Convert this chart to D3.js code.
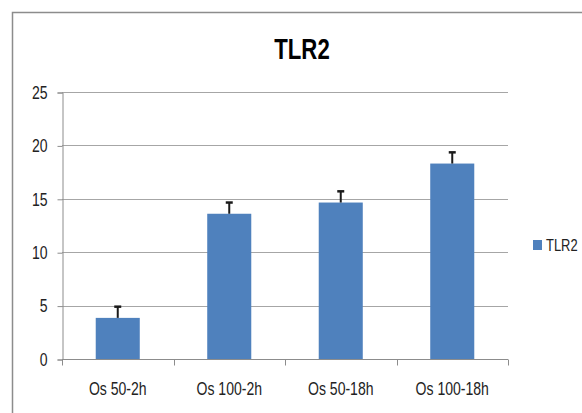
<!DOCTYPE html>
<html>
<head>
<meta charset="utf-8">
<script src="https://cdn.jsdelivr.net/npm/d3@7"></script>
<style>
  body { margin: 0; background: #fff; }
  svg text { font-family: "Liberation Sans", Arial, sans-serif; fill: #222; }
</style>
</head>
<body>
<div id="chart"></div>
<script>
var categories = ["Os 50-2h", "Os 100-2h", "Os 50-18h", "Os 100-18h"];
var values = [3.85, 13.6, 14.65, 18.3];
var errors = [1.05, 1.05, 1.05, 1.05];
var yTicks = [0, 5, 10, 15, 20, 25];
var seriesName = "TLR2";

var width = 582, height = 413;
var margin = {top: 92, left: 62, right: 74, bottom: 54};
var narrow = 0.78;   // the original font is a narrow one (Calibri-like)

var svg = d3.select("#chart")
            .append("svg")
            .attr("width", width)
            .attr("height", height)

// chart frame (only top and left edges are inside the picture)
svg.append("path")
    .attr("d", "M12.5," + height + "V12.5H" + width)
    .attr("fill", "none")
    .attr("stroke", "#8c8c8c")
    .attr("stroke-width", 1.5)

svg.append("text")
    .attr("transform", "translate(302,59) scale(0.74,1)")
    .attr("text-anchor", "middle")
    .style("font-size", "30px")
    .style("font-weight", "bold")
    .style("fill", "#000")
    .text(seriesName)

var x = d3.scaleBand()
            .domain(categories)
            .range([margin.left, width - margin.right])
            .paddingInner(0.605)
            .paddingOuter(0.3025)

var y = d3.scaleLinear()
            .domain([0, 25])
            .range([height - margin.bottom, margin.top])

// gridlines
svg.append("g")
    .selectAll("line")
    .data(yTicks.slice(1))
    .enter()
    .append("line")
    .attr("x1", margin.left)
    .attr("x2", width - margin.right)
    .attr("y1", d => Math.round(y(d)) + 0.5)
    .attr("y2", d => Math.round(y(d)) + 0.5)
    .attr("stroke", "#a6a6a6")

var yAxis = svg.append("g")
    .attr("transform", "translate(" + (margin.left + 0.5) + ",0.5)")
    .call(d3.axisLeft(y).tickValues(yTicks).tickSize(5).tickPadding(10))
yAxis.select(".domain").attr("stroke", "#8c8c8c")
yAxis.selectAll(".tick line").attr("stroke", "#8c8c8c")
yAxis.selectAll(".tick text")
    .style("font-size", "18px")
    .attr("fill", "#222")
    .attr("x", -15 / narrow)
    .attr("transform", "scale(" + narrow + ",1)")

// x axis with ticks between categories
var xAxisY = Math.round(y(0)) + 0.5;
svg.append("line")
    .attr("x1", margin.left)
    .attr("x2", width - margin.right)
    .attr("y1", xAxisY)
    .attr("y2", xAxisY)
    .attr("stroke", "#8c8c8c")

var step = x.step();
svg.append("g")
    .selectAll("line")
    .data(d3.range(categories.length + 1))
    .enter()
    .append("line")
    .attr("x1", i => Math.round(margin.left + i * step) + 0.5)
    .attr("x2", i => Math.round(margin.left + i * step) + 0.5)
    .attr("y1", xAxisY)
    .attr("y2", xAxisY + 6)
    .attr("stroke", "#8c8c8c")

svg.append("g")
    .selectAll("text")
    .data(categories)
    .enter()
    .append("text")
    .attr("transform", d => "translate(" + (x(d) + x.bandwidth() / 2) + ",395) scale(" + narrow + ",1)")
    .attr("text-anchor", "middle")
    .style("font-size", "18px")
    .text(d => d)

// bars
svg.append("g")
    .selectAll("rect")
    .data(values)
    .enter()
    .append("rect")
    .attr("x", (d, i) => x(categories[i]))
    .attr("y", d => y(d))
    .attr("width", x.bandwidth())
    .attr("height", d => y(0) - y(d))
    .attr("fill", "#4f81bd")

// error bars (upper only)
var err = svg.append("g")
    .selectAll("g")
    .data(values)
    .enter()
    .append("g")
    .attr("stroke", "#1a1a1a")
    .attr("stroke-width", 2)

err.append("line")
    .attr("x1", (d, i) => x(categories[i]) + x.bandwidth() / 2)
    .attr("x2", (d, i) => x(categories[i]) + x.bandwidth() / 2)
    .attr("y1", d => y(d))
    .attr("y2", (d, i) => y(d + errors[i]))

err.append("line")
    .attr("x1", (d, i) => x(categories[i]) + x.bandwidth() / 2 - 3.5)
    .attr("x2", (d, i) => x(categories[i]) + x.bandwidth() / 2 + 3.5)
    .attr("y1", (d, i) => y(d + errors[i]))
    .attr("y2", (d, i) => y(d + errors[i]))
    .attr("stroke-width", 2.5)

// legend
var legend = svg.append("g").attr("transform", "translate(533,240)")
legend.append("rect")
    .attr("width", 9)
    .attr("height", 10)
    .attr("fill", "#4f81bd")
legend.append("text")
    .attr("transform", "translate(13,11) scale(0.76,1)")
    .style("font-size", "17px")
    .text(seriesName)
</script>
</body>
</html>
